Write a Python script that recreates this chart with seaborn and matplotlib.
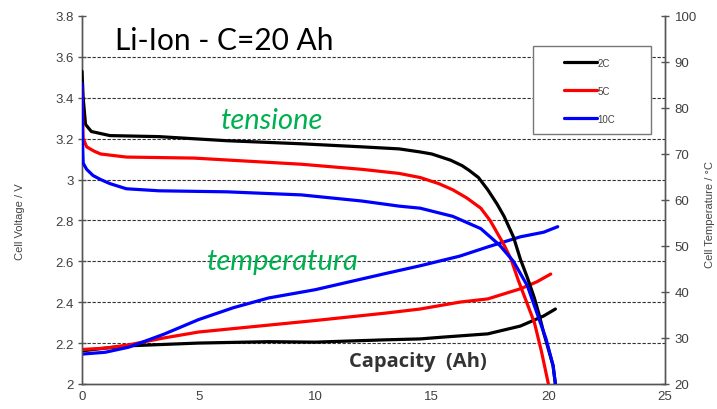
import matplotlib
matplotlib.use("Agg")
import matplotlib.pyplot as plt
import matplotlib.transforms as mtransforms
import seaborn as sns
import pandas as pd
from matplotlib.patches import Rectangle
from matplotlib.lines import Line2D

# ---------------- data ----------------
rates = ["2C", "5C", "10C"]
colors = ["#000000", "#ff0000", "#0000ff"]

cap_v_2c = [0, 0.05, 0.15, 0.4, 1.2, 3.3, 6.2, 9.4, 12, 13.6, 14.5, 15.0, 15.4, 15.8, 16.3,
            16.6, 17.0, 17.4, 17.8, 18.1, 18.5, 18.8, 19.1, 19.4, 19.6, 19.8, 20.0, 20.2, 20.3]
volt_2c = [3.53, 3.40, 3.27, 3.235, 3.215, 3.21, 3.19, 3.175, 3.16, 3.15, 3.135, 3.125, 3.11,
           3.095, 3.068, 3.045, 3.01, 2.95, 2.88, 2.82, 2.72, 2.61, 2.52, 2.42, 2.34, 2.25,
           2.17, 2.09, 2.0]

cap_v_5c = [0, 0.05, 0.2, 0.5, 0.8, 1.9, 4.8, 9.4, 12, 13.6, 14.5, 15.3, 15.9, 16.5, 17.1,
            17.5, 17.8, 18.1, 18.4, 18.7, 18.9, 19.2, 19.4, 19.7, 19.85, 20.0]
volt_5c = [3.45, 3.20, 3.16, 3.14, 3.125, 3.11, 3.105, 3.075, 3.05, 3.03, 3.01, 2.98, 2.95,
           2.91, 2.86, 2.80, 2.74, 2.68, 2.61, 2.51, 2.45, 2.36, 2.30, 2.16, 2.08, 2.0]

cap_v_10c = [0, 0.02, 0.05, 0.2, 0.47, 0.8, 1.2, 1.9, 3.3, 6.2, 9.4, 12, 13.6, 14.5, 15.9,
             17.1, 17.9, 18.5, 19.1, 19.5, 19.9, 20.2, 20.3]
volt_10c = [3.47, 3.20, 3.08, 3.05, 3.02, 3.0, 2.98, 2.955, 2.945, 2.94, 2.925, 2.895, 2.87,
            2.86, 2.82, 2.76, 2.68, 2.60, 2.48, 2.35, 2.22, 2.09, 2.0]

cap_t_2c = [0, 1, 2, 5, 8, 10, 13, 14.5, 15.5, 17.4, 18.8, 19.8, 20.3]
temp_2c = [27.2, 27.8, 28.3, 28.9, 29.2, 29.1, 29.6, 29.8, 30.2, 30.9, 32.6, 34.8, 36.3]

cap_t_5c = [0, 1, 2, 3.5, 5, 8, 10, 13, 14.5, 16.2, 17.4, 18.8, 19.5, 20.1]
temp_5c = [27.5, 27.8, 28.5, 30.0, 31.3, 32.8, 33.8, 35.4, 36.3, 37.8, 38.5, 40.7, 42.2, 43.9]

cap_t_10c = [0, 1, 2, 3.5, 5, 6.5, 8, 10, 13, 14.5, 16.2, 17.4, 18.8, 19.8, 20.4]
temp_10c = [26.5, 26.9, 28.0, 30.8, 34.0, 36.6, 38.7, 40.5, 44.0, 45.7, 47.8, 49.8, 52.0, 53.0, 54.2]

x_ticks = [0, 5, 10, 15, 20, 25]
v_ticks = [2.0, 2.2, 2.4, 2.6, 2.8, 3.0, 3.2, 3.4, 3.6, 3.8]
v_tick_labels = ["2", "2.2", "2.4", "2.6", "2.8", "3", "3.2", "3.4", "3.6", "3.8"]
t_ticks = [20, 30, 40, 50, 60, 70, 80, 90, 100]

title_text = "Li-Ion - C=20 Ah"
ylabel_left = "Cell Voltage / V"
ylabel_right = "Cell Temperature / °C"
xlabel_text = "Capacity  (Ah)"

# ---------------- style ----------------
sns.set_style("white")
plt.rcParams["font.family"] = ["Liberation Sans", "DejaVu Sans"]

fig = plt.figure(figsize=(7.17, 4.10), dpi=100)
ax = fig.add_axes([82 / 717, 1 - 385 / 410, (665 - 82) / 717, (385 - 17) / 410])
ax2 = ax.twinx()

tick_col = "#404040"
spine_col = "#555555"

volt_sets = [(cap_v_2c, volt_2c), (cap_v_5c, volt_5c), (cap_v_10c, volt_10c)]
temp_sets = [(cap_t_2c, temp_2c), (cap_t_5c, temp_5c), (cap_t_10c, temp_10c)]

for (cx, vy), col in zip(volt_sets, colors):
    df = pd.DataFrame({"cap": cx, "v": vy})
    sns.lineplot(data=df, x="cap", y="v", ax=ax, color=col, lw=2.3, sort=False,
                 estimator=None, zorder=5)
for (cx, ty), col in zip(temp_sets, colors):
    df = pd.DataFrame({"cap": cx, "t": ty})
    sns.lineplot(data=df, x="cap", y="t", ax=ax2, color=col, lw=2.3, sort=False,
                 estimator=None, zorder=5)

ax.set_xlim(0, 25)
ax.set_ylim(2.0, 3.8)
ax2.set_ylim(20, 100)
ax.set_xticks(x_ticks)
ax.set_xticklabels([str(t) for t in x_ticks])
ax.set_yticks(v_ticks)
ax.set_yticklabels(v_tick_labels)
ax2.set_yticks(t_ticks)
ax2.set_yticklabels([str(t) for t in t_ticks])
ax.set_xlabel("")
ax.set_ylabel("")
ax2.set_ylabel("")

# gridlines at voltage ticks (drawn in the lower axes, under all curves)
blend = mtransforms.blended_transform_factory(ax2.transAxes, ax.transData)
for v in v_ticks[1:-1]:
    ax2.plot([0, 1], [v, v], transform=blend, color="#333333", lw=0.8,
             ls=(0, (3, 1.5)), zorder=1)

for a in (ax, ax2):
    a.spines["top"].set_visible(False)
    for s in ["left", "right", "bottom"]:
        a.spines[s].set_color(spine_col)
        a.spines[s].set_linewidth(1.0)
ax.tick_params(axis="both", direction="inout", length=6, width=1, color=spine_col,
               labelsize=9.5, labelcolor=tick_col, pad=3)
ax.tick_params(axis="x", pad=1)
ax2.tick_params(axis="y", direction="inout", length=6, width=1, color=spine_col,
                labelsize=9.5, labelcolor=tick_col, pad=4)
ax.tick_params(axis="y", right=False)
ax2.tick_params(axis="y", left=False)
ax.set_zorder(ax2.get_zorder() + 1)
ax.patch.set_visible(False)

# texts
fig.text(115 / 717, 1 - 41 / 410, title_text, fontsize=21.5, family="Lato",
         color="black", va="center", ha="left")
fig.text(272 / 717, 1 - 121 / 410, "tensione", fontsize=21, family="Lato",
         style="italic", color="#00b050", va="center", ha="center")
fig.text(283 / 717, 1 - 262 / 410, "temperatura", fontsize=21, family="Lato",
         style="italic", color="#00b050", va="center", ha="center")
ax2.text(418 / 717, 1 - 362 / 410, xlabel_text, transform=fig.transFigure,
         fontsize=14.5, family="Open Sans", weight="bold", color="#333333",
         va="center", ha="center", zorder=3,
         bbox=dict(facecolor="white", edgecolor="none", pad=4.5))
fig.text(20 / 717, 1 - 222 / 410, ylabel_left, fontsize=8, color="#444444",
         rotation=90, va="center", ha="center")
fig.text(710 / 717, 1 - 215 / 410, ylabel_right, fontsize=8, color="#444444",
         rotation=90, va="center", ha="center")

# legend box
box = Rectangle((533 / 717, 1 - 135 / 410), (651 - 533) / 717, (135 - 47) / 410,
                transform=fig.transFigure, facecolor="white", edgecolor="#777777",
                lw=1.0, zorder=8)
fig.patches.append(box)
handles = [Line2D([], [], color=c, lw=2.3) for c in colors]
leg = fig.legend(handles, rates, loc="upper left",
                 bbox_to_anchor=(556 / 717, 1 - 51 / 410), frameon=False,
                 fontsize=7, handlelength=3.4, handletextpad=0.1,
                 labelspacing=1.85, borderpad=0.3)
leg.set_zorder(9)
for t in leg.get_texts():
    t.set_color("#444444")

fig.savefig("out.png", dpi=100)
